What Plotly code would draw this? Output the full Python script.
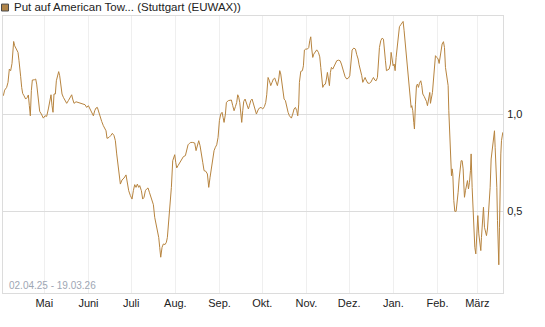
import pandas as pd
import plotly.graph_objects as go

series_name = "Put auf American Tow... (Stuttgart (EUWAX))"
date_range_label = "02.04.25 - 19.03.26"
start_date = "2025-04-02"
end_date = "2026-03-19"

# day offsets from start_date
days = [0.23,1.17,2.57,3.51,4.45,5.38,6.32,6.79,7.49,8.19,9.60,10.53,11.23,11.94,12.41,13.11,13.81,14.75,15.92,17.09,17.79,18.49,19.19,19.90,20.60,22.00,22.94,23.64,24.34,25.05,25.75,26.92,28.32,29.49,30.66,31.83,33.00,33.71,34.41,35.11,35.81,36.75,37.45,38.15,39.09,39.79,40.49,41.43,42.37,43.54,44.71,45.88,47.05,48.22,48.92,49.86,51.26,52.90,54.07,56.41,57.58,58.75,59.92,61.09,62.50,63.43,64.37,65.31,66.24,67.18,68.11,69.28,70.45,71.39,72.33,73.03,74.43,75.61,76.78,77.95,78.88,79.82,80.75,81.69,82.39,83.56,84.97,86.37,87.31,88.24,89.41,90.58,91.52,92.46,93.39,94.33,95.26,95.97,97.14,98.07,99.01,99.95,100.88,101.82,102.76,103.69,104.63,105.57,106.50,107.44,108.37,109.31,110.01,110.72,111.65,112.59,113.76,114.69,115.40,116.33,117.27,118.21,119.14,119.84,120.55,121.25,121.95,122.89,124.06,125.00,125.93,126.63,128.04,128.97,129.91,130.85,131.78,133.19,134.60,135.53,136.47,137.40,138.34,139.27,140.21,141.15,142.32,143.49,144.43,145.36,146.30,147.23,148.17,149.10,150.04,150.98,151.91,152.85,153.78,154.49,155.19,156.13,156.83,158.23,159.40,160.34,161.27,162.21,163.15,164.08,164.78,165.49,166.19,166.89,167.59,168.30,169.00,169.94,171.11,172.27,172.98,173.92,174.85,175.79,176.49,
177.89,179.06,179.99,181.16,182.33,183.50,184.44,185.14,186.08,187.02,187.95,188.89,189.82,190.76,191.70,192.63,193.57,194.27,194.97,195.91,196.61,197.32,198.25,199.19,200.12,201.06,202.46,203.40,204.34,205.27,206.21,206.91,207.61,208.08,209.02,210.19,210.89,211.59,212.53,213.70,214.64,215.34,216.04,216.74,217.45,218.15,219.09,220.25,221.42,222.36,223.06,223.77,224.47,225.40,226.34,227.04,227.74,228.45,229.15,229.85,230.55,231.49,232.43,233.36,234.30,235.47,236.64,237.57,238.51,239.21,240.15,241.32,242.49,243.43,244.36,245.07,246.24,247.41,248.34,249.28,249.98,250.92,251.85,252.56,253.49,254.20,254.90,256.07,257.24,258.18,259.11,260.05,260.98,261.92,262.86,263.56,264.26,265.20,266.13,267.07,267.77,268.47,269.18,270.11,271.05,271.99,272.45,273.16,273.86,274.56,275.26,275.97,276.67,277.37,278.31,279.24,280.18,280.88,281.58,282.29,282.99,283.69,284.39,285.10,285.80,286.50,286.97,287.67,288.37,288.84,289.54,290.25,290.95,291.65,292.35,293.29,293.99,294.69,295.63,296.33,297.27,297.97,298.91,299.61,300.08,300.78,301.48,302.18,302.89,303.59,304.52,305.46,306.16,306.86,307.57,308.27,309.20,309.91,310.61,311.55,312.48,312.95,313.42,313.89,314.36,314.83,315.29,315.76,316.46,317.17,318.10,318.80,319.50,320.21,320.91,321.61,322.32,323.02,323.48,323.95,324.65,325.35,326.06,326.76,327.46,328.16,328.63,329.33,329.80,330.50,331.21,331.91,332.61,333.31,334.02,334.72,335.42,335.89,336.59,337.29,338.00,338.70,339.40,340.10,340.81,341.51,341.98,342.68,343.38,344.08,344.55,345.02,345.49,345.96,346.66,347.13,347.60,348.06,348.53,349.00,349.47,349.94,350.41,350.87]

values = [1.094,1.123,1.137,1.163,1.231,1.223,1.260,1.334,1.373,1.351,1.334,1.317,1.274,1.240,1.192,1.137,1.106,1.094,1.077,1.086,1.098,1.043,0.991,1.120,1.175,1.176,1.180,1.154,1.103,1.051,1.014,1.000,0.979,0.991,0.988,1.026,1.065,1.099,1.043,1.009,1.103,1.103,1.171,1.197,1.218,1.197,1.154,1.103,1.086,1.069,1.055,1.069,1.086,1.099,1.077,1.055,1.063,1.060,1.055,1.051,1.048,1.034,1.043,1.026,1.009,0.991,1.017,1.031,1.034,1.009,0.991,0.962,0.940,0.926,0.914,0.875,0.880,0.889,0.901,0.889,0.863,0.795,0.726,0.683,0.640,0.661,0.671,0.687,0.649,0.606,0.581,0.563,0.606,0.637,0.623,0.640,0.623,0.632,0.606,0.563,0.572,0.606,0.615,0.620,0.598,0.575,0.550,0.534,0.469,0.435,0.418,0.366,0.315,0.264,0.315,0.332,0.329,0.341,0.366,0.452,0.538,0.623,0.760,0.777,0.791,0.752,0.723,0.735,0.752,0.764,0.777,0.781,0.786,0.815,0.842,0.849,0.854,0.854,0.851,0.812,0.837,0.863,0.837,0.803,0.752,0.709,0.706,0.692,0.623,0.675,0.726,0.777,0.812,0.829,0.842,0.880,0.966,1.000,1.009,0.983,0.957,1.000,1.060,1.069,1.072,1.072,1.043,1.017,1.038,1.060,1.099,1.086,1.060,1.009,0.957,1.017,1.065,1.077,1.055,1.026,1.043,1.069,1.077,1.055,1.029,
1.000,1.021,1.031,1.034,1.026,1.038,1.060,1.099,1.188,1.171,1.146,1.163,1.180,1.185,1.163,1.146,1.180,1.223,1.206,1.146,1.094,1.077,1.069,1.034,1.009,0.991,0.979,1.000,1.026,1.034,1.017,0.991,1.051,1.163,1.219,1.223,1.248,1.329,1.334,1.334,1.342,1.377,1.397,1.334,1.291,1.308,1.317,1.330,1.317,1.294,1.240,1.180,1.137,1.151,1.154,1.180,1.214,1.180,1.146,1.214,1.240,1.231,1.248,1.265,1.274,1.277,1.274,1.257,1.235,1.214,1.192,1.180,1.185,1.197,1.265,1.329,1.339,1.334,1.305,1.283,1.253,1.231,1.197,1.163,1.180,1.188,1.175,1.159,1.158,1.163,1.176,1.188,1.175,1.171,1.188,1.274,1.342,1.377,1.390,1.385,1.342,1.274,1.223,1.226,1.231,1.257,1.317,1.283,1.248,1.257,1.223,1.291,1.342,1.411,1.449,1.459,1.466,1.476,1.428,1.368,1.325,1.274,1.214,1.151,1.060,1.034,1.043,1.017,0.957,0.923,1.051,1.146,1.154,1.137,1.158,1.171,1.146,1.103,1.091,1.082,1.065,1.043,1.077,1.111,1.055,1.077,1.111,1.175,1.257,1.300,1.291,1.283,1.260,1.291,1.342,1.360,1.372,1.342,1.240,1.180,1.146,1.017,0.906,0.803,0.726,0.683,0.718,0.692,0.555,0.500,0.500,0.538,0.598,0.666,0.718,0.760,0.760,0.718,0.640,0.572,0.606,0.640,0.658,0.615,0.649,0.709,0.795,0.623,0.521,0.418,0.315,0.281,0.401,0.478,0.384,0.332,0.298,0.366,0.444,0.521,0.418,0.384,0.375,0.409,0.478,0.572,0.623,0.769,0.812,0.863,0.889,0.914,0.829,0.752,0.623,0.452,0.315,0.225,0.418,0.658,0.795,0.863,0.897,0.906]

assert len(days) == len(values), (len(days), len(values))

month_ticks = ["2025-05-01", "2025-06-01", "2025-07-01", "2025-08-01", "2025-09-01",
               "2025-10-01", "2025-11-01", "2025-12-01", "2026-01-01", "2026-02-01", "2026-03-01"]
month_labels = ["Mai", "Juni", "Juli", "Aug.", "Sep.", "Okt.", "Nov.", "Dez.", "Jan.", "Feb.", "März"]
y_ticks = [0.5, 1.0]

dates = pd.Timestamp(start_date) + pd.to_timedelta(days, unit="D")

LINE = "#b7843f"
FONT = "Liberation Sans, Arial, sans-serif"

fig = go.Figure()
fig.add_trace(go.Scatter(x=dates, y=values, mode="lines", name=series_name,
                         line=dict(color=LINE, width=1), showlegend=False,
                         hoverinfo="skip"))

fig.update_layout(
    width=545, height=327,
    margin=dict(l=3, r=42, t=16, b=34),
    paper_bgcolor="white", plot_bgcolor="white",
    separators=",.",
    font=dict(family=FONT, size=11, color="#222"),
    xaxis=dict(
        type="date", range=[start_date, end_date],
        tickvals=month_ticks, ticktext=month_labels,
        showgrid=True, gridcolor="#efefef", gridwidth=1,
        showline=True, linecolor="#dcdcdc", linewidth=1, mirror=True,
        ticks="", ticklen=0,
        tickfont=dict(size=11, color="#222"), zeroline=False,
    ),
    yaxis=dict(
        side="right", range=[0.08, 1.504],
        tickvals=y_ticks, tickformat=".1f",
        showgrid=True, gridcolor="#dcdcdc", gridwidth=1,
        showline=True, linecolor="#dcdcdc", linewidth=1, mirror=True,
        ticks="outside", ticklen=1, tickcolor="rgba(0,0,0,0)",
        tickfont=dict(size=11, color="#222"), zeroline=False,
    ),
    shapes=[dict(type="rect", xref="paper", yref="paper",
                 x0=-0.003, x1=0.011, y0=1.018, y1=1.043,
                 fillcolor="#b08448", line=dict(color="#4a4a4a", width=1))],
    annotations=[
        dict(text=series_name, xref="paper", yref="paper", x=0.017, y=1.031,
             xanchor="left", yanchor="middle", showarrow=False,
             font=dict(size=11.5, color="#222", family=FONT)),
        dict(text=date_range_label, xref="paper", yref="paper", x=0.008, y=0.026,
             xanchor="left", yanchor="middle", showarrow=False,
             font=dict(size=10, color="#9ea6b4", family=FONT)),
    ],
)

fig.write_html("out.html")
